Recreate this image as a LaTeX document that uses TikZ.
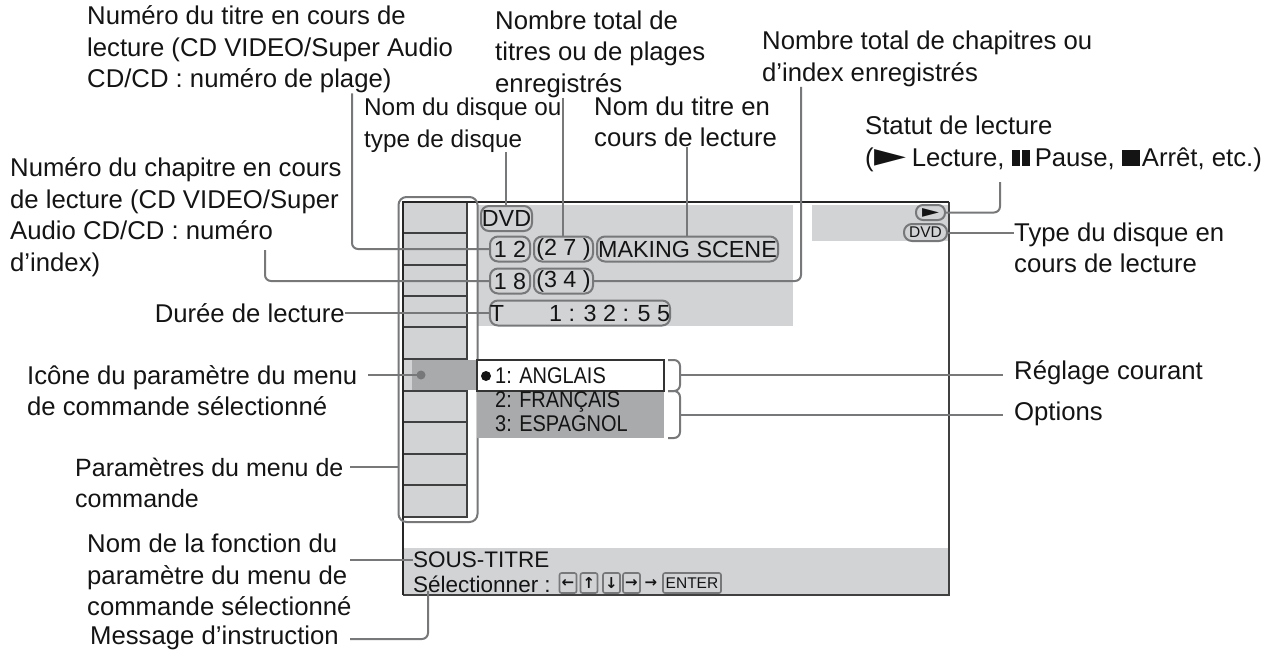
\documentclass[tikz,border=0pt]{standalone}
\usepackage{fontspec}
\setmainfont{Liberation Sans}
\newfontfamily\symfont{DejaVu Sans}
\newfontfamily\optfont[FakeStretch=0.88]{Liberation Sans}
\newcommand{\playglyph}{{\hspace{1pt}\symfont\resizebox{32pt}{17pt}{►}\hspace{5pt}}}
\newcommand{\pauseglyph}{{\rule{8pt}{16pt}\hspace{2pt}\rule{8pt}{16pt}\hspace{5pt}}}
\newcommand{\stopglyph}{{\rule{18pt}{16pt}\hspace{2pt}}}
\definecolor{panelgrey}{HTML}{D2D3D5}
\definecolor{selgrey}{HTML}{A9AAAC}
\definecolor{leadgrey}{HTML}{77787A}
\definecolor{inkgrey}{HTML}{141414}
\begin{document}
\begin{tikzpicture}
		[x=1pt, y=-1pt,
		label/.style={anchor=west,align=left,inner sep=0pt,text=inkgrey,font=\fontsize{25.7}{31.5}\selectfont},
		screentext/.style={anchor=west,inner sep=0pt,text=inkgrey,font=\fontsize{22.5}{23}\selectfont},
		opttext/.style={anchor=west,inner sep=0pt,text=inkgrey,font=\optfont\fontsize{22.7}{23}\selectfont},
		leader/.style={line width=2pt,leadgrey,rounded corners=6pt},
		pill/.style={draw=leadgrey,line width=2pt,rounded corners=8pt,inner sep=0pt,minimum height=25pt,text=inkgrey,font=\fontsize{23.3}{24}\selectfont},
		keycap/.style={draw=leadgrey,line width=1.6pt,rounded corners=2pt,inner sep=0pt,minimum width=17pt,minimum height=20pt,text=inkgrey,font=\symfont\bfseries\fontsize{15}{15}\selectfont},
		cellline/.style={line width=1.2pt,black!75}]
		\useasboundingbox (0,0) rectangle (1271,654);

		% Grey panels of the screen
		\fill[panelgrey] (478,205) rectangle (793,326);
		\fill[panelgrey] (812,205) rectangle (948,241);
		\fill[panelgrey] (404,548) rectangle (949,595);
		\fill[panelgrey] (404,203) rectangle (467,517);

		% Screen frame
		\draw[line width=1.2pt,black!75] (949,202) -- (949,595) -- (403,595);
		\draw[line width=2.2pt,black!85] (403,595) -- (403,202) -- (949,202);

		% Cells of the menu column
		\draw[cellline] (467,203) -- (467,517) -- (404,517)
			(404,233) -- (467,233) (404,265) -- (467,265) (404,296) -- (467,296)
			(404,327) -- (467,327) (404,359) -- (467,359) (404,391) -- (467,391)
			(404,422) -- (467,422) (404,454) -- (467,454) (404,485) -- (467,485);

		% Outline round the menu column
		\node [draw=leadgrey,line width=2pt,rounded corners=8pt,inner sep=0pt,minimum width=79pt,minimum height=325pt] (column) at (438,359.5) {};

		% Selected item and its options
		\fill[selgrey] (412,360) rectangle (478,390);
		\fill[selgrey] (477,391) rectangle (664,438);
		\node [draw=black!80,fill=white,line width=1.2pt,inner sep=0pt,minimum width=187pt,minimum height=31pt] (selbox) at (570.5,375.5) {};
		\node [circle,fill=leadgrey,inner sep=0pt,minimum size=9pt] (icondot) at (421,375) {};
		\node [circle,fill=inkgrey,inner sep=0pt,minimum size=10pt] (seldot) at (486,376) {};
		\node [opttext] (optone) at (495,376) {1: ANGLAIS};
		\node [opttext] (opttwo) at (495,402) {2: FRANÇAIS};
		\node [opttext] (optthree) at (495,424) {3: ESPAGNOL};

		% Brackets beside the options
		\coordinate (curtip) at (680,375);
		\coordinate (opttip) at (680,415);
		\draw[leader] (668,360) -- (680,360) -- (curtip) -- (680,391) -- (668,391);
		\draw[leader] (668,391) -- (680,391) -- (opttip) -- (680,438) -- (668,438);

		% Pills of the playback information
		\node [pill,minimum width=51pt] (disc) at (506.5,218.5) {DVD};
		\node [pill,minimum width=40pt] (titlenum) at (510,249) {1 2};
		\node [pill,minimum width=59pt] (titletotal) at (563.5,249) {(2 7 )};
		\node [pill,minimum width=181pt] (titlename) at (687.5,249) {MAKING SCENE};
		\node [pill,minimum width=40pt] (chapnum) at (510,281) {1 8};
		\node [pill,minimum width=59pt] (chaptotal) at (563.5,281) {(3 4 )};
		\node [pill,minimum width=180pt] (playtime) at (580,313) {T\hspace{45pt}1 : 3 2 : 5 5};
		\node [pill,minimum width=29pt,minimum height=15pt,rounded corners=7pt,font=\symfont\fontsize{14}{14}\selectfont] (playstate) at (930.5,212.5) {\resizebox{17pt}{9pt}{►}};
		\node [pill,minimum width=43pt,minimum height=17pt,rounded corners=8pt,font=\fontsize{15.5}{16}\selectfont] (disctype) at (925.5,232.5) {DVD};

		% Function name and instruction line
		\node [screentext] (funcname) at (413,560) {SOUS-TITRE};
		\node [screentext] (instruct) at (413,584) {Sélectionner :};
		\node [keycap] (keyleft) at (568,583) {←};
		\node [keycap] (keyup) at (589,583) {↑};
		\node [keycap] (keydown) at (611.5,583) {↓};
		\node [keycap] (keyright) at (631.5,583) {→};
		\node [inner sep=0pt,text=inkgrey,font=\symfont\bfseries\fontsize{15}{15}\selectfont] (keynext) at (651,583) {→};
		\node [keycap,minimum width=58pt,font=\fontsize{15.5}{16}\selectfont] (keyenter) at (692,583) {ENTER};

		% Labels above the screen
		\node [label] (titlelbl) at (87,49.5) {Numéro du titre en cours de\\lecture (CD VIDEO/Super Audio\\CD/CD : numéro de plage)};
		\node [label] (totallbl) at (495,54) {Nombre total de\\titres ou de plages\\enregistrés};
		\node [label] (chaplbl) at (762,59) {Nombre total de chapitres ou\\d'index enregistrés};
		\node [label,font=\fontsize{24.3}{31.5}\selectfont] (disclbl) at (364,125) {Nom du disque ou\\type de disque};
		\node [label] (namelbl) at (594,122) {Nom du titre en\\cours de lecture};
		\node [label] (statelbl) at (865,144) {Statut de lecture\\(\playglyph Lecture, \pauseglyph Pause, \stopglyph Arrêt, etc.)};

		% Labels on the left
		\node [label] (chapnumlbl) at (10,217) {Numéro du chapitre en cours\\de lecture (CD VIDEO/Super\\Audio CD/CD : numéro\\d'index)};
		\node [label,anchor=east] (timelbl) at (345,313) {Durée de lecture};
		\node [label] (iconlbl) at (27,390.5) {Icône du paramètre du menu\\de commande sélectionné};
		\node [label,font=\fontsize{25}{31.5}\selectfont] (paramlbl) at (75,483) {Paramètres du menu de\\commande};
		\node [label] (funclbl) at (87,575) {Nom de la fonction du\\paramètre du menu de\\commande sélectionné};
		\node [label] (msglbl) at (90,638) {Message d'instruction};

		% Labels on the right
		\node [label] (typelbl) at (1014,248) {Type du disque en\\cours de lecture};
		\node [label] (curlbl) at (1014,373) {Réglage courant};
		\node [label] (optlbl) at (1014,414) {Options};

		% Free ends of the leaders
		\coordinate (chapstart) at (265,250);
		\coordinate (iconstart) at (368,375);
		\coordinate (paramstart) at (350,467);
		\coordinate (funcstart) at (350,560);
		\coordinate (msgstart) at (350,639);
		\coordinate (msgend) at (428,591);
		\coordinate (statestart) at (1000,182);

		% Leaders from the top
		\draw[leader] (352,0 |- titlelbl.south) |- (titlenum.west);
		\draw[leader] (506,0 |- disclbl.south) -- (506,0 |- disc.north);
		\draw[leader] (563,0 |- totallbl.south) -- (563,0 |- titletotal.north);
		\draw[leader] (687,0 |- namelbl.south) -- (687,0 |- titlename.north);
		\draw[leader] (801,0 |- chaplbl.south) |- (chaptotal.east);

		% Leaders from the left
		\draw[leader] (chapstart) |- (chapnum.west);
		\draw[leader] (timelbl.east) -- (playtime.west);
		\draw[leader] (iconstart) -- (icondot.center);
		\draw[leader] (paramstart) -- (column.west |- paramstart);
		\draw[leader] (funcstart) -- (funcname.west);
		\draw[leader] (msgstart) -| (msgend);

		% Leaders on the right
		\draw[leader] (playstate.east) -| (statestart);
		\draw[leader] (disctype.east) -- (typelbl.west |- disctype.east);
		\draw[leader] (curtip) -- (1003,375);
		\draw[leader] (opttip) -- (1003,415);
	\end{tikzpicture}
\end{document}
